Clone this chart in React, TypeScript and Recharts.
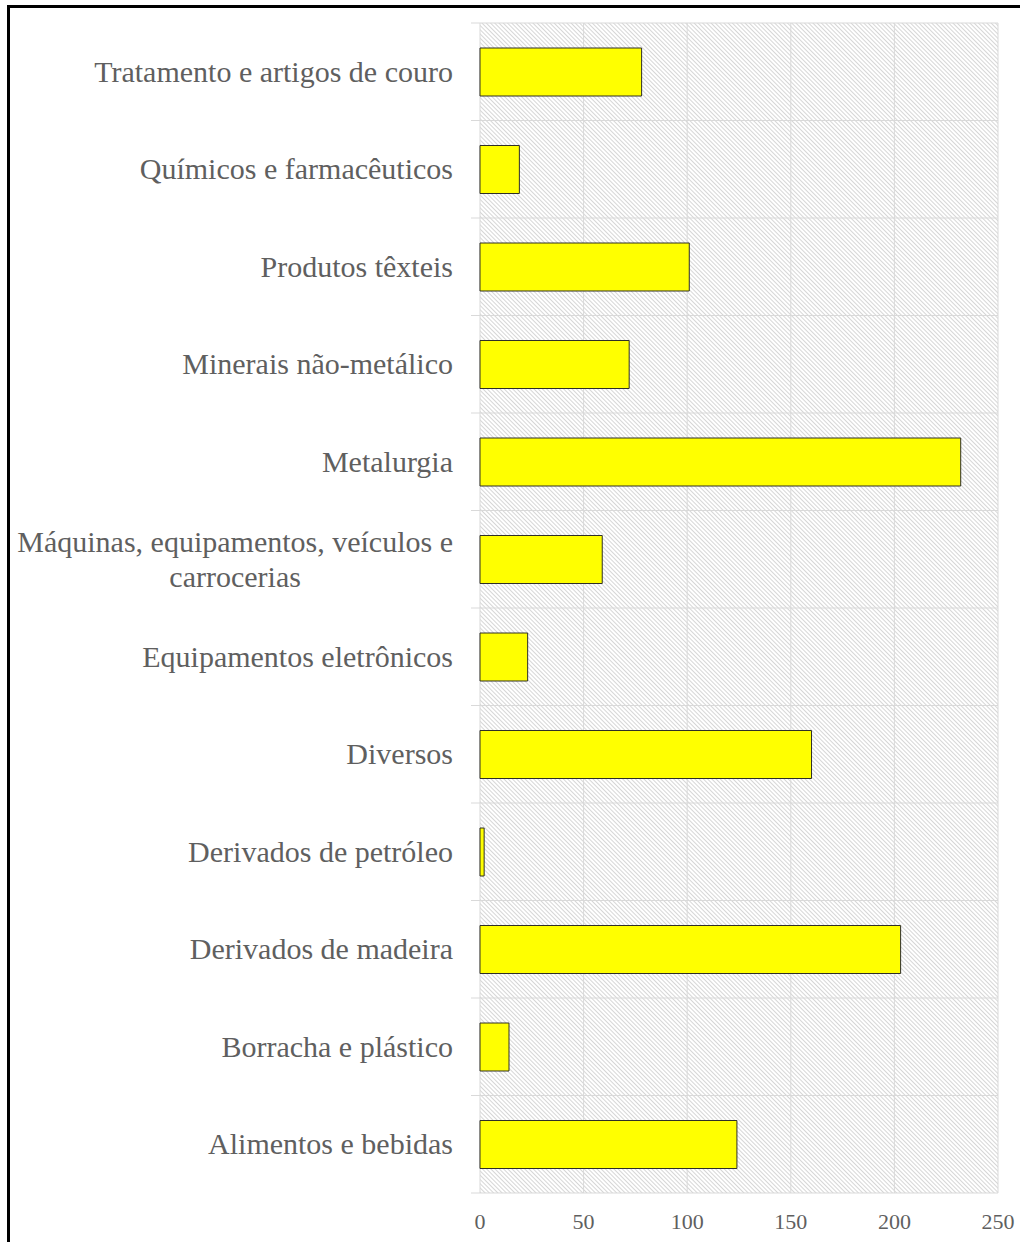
import React from "react";
import { BarChart, Bar, XAxis, YAxis, CartesianGrid } from "recharts";

const categories = [
  "Tratamento e artigos de couro",
  "Químicos e farmacêuticos",
  "Produtos têxteis",
  "Minerais não-metálico",
  "Metalurgia",
  "Máquinas, equipamentos, veículos e carrocerias",
  "Equipamentos eletrônicos",
  "Diversos",
  "Derivados de petróleo",
  "Derivados de madeira",
  "Borracha e plástico",
  "Alimentos e bebidas",
];
const values = [78, 19, 101, 72, 232, 59, 23, 160, 2, 203, 14, 124];
const xTicks = [0, 50, 100, 150, 200, 250];

const data = categories.map((name, i) => ({ name, value: values[i] }));

const W = 1020;
const H = 1242;
const MARGIN = { top: 23, right: 22, bottom: 0, left: 0 };
const Y_W = 480;
const X_H = 49;
const PLOT_H = H - MARGIN.top - MARGIN.bottom - X_H;
const HALF_BAND = PLOT_H / (categories.length * 2);
const LABEL_FONT = '30px "Liberation Serif"';
const TEXT_COLOR = "#5f5f5f";
const GRID = "#d9d9d9";

let ctx: CanvasRenderingContext2D | null = null;
function measure(t: string) {
  if (!ctx) {
    const c = document.createElement("canvas");
    ctx = c.getContext("2d");
  }
  if (!ctx) return t.length * 13;
  ctx.font = LABEL_FONT;
  return ctx.measureText(t).width;
}
function wrap(t: string, maxW: number) {
  const words = t.split(" ");
  const lines: string[] = [];
  let cur = "";
  for (const w of words) {
    const test = cur ? cur + " " + w : w;
    if (measure(test) > maxW && cur) {
      lines.push(cur);
      cur = w;
    } else cur = test;
  }
  if (cur) lines.push(cur);
  return lines;
}

const YTick = (props: any) => {
  const { x, y, payload, index } = props;
  const lines = wrap(String(payload.value), 445);
  const widths = lines.map(measure);
  const maxW = Math.max(...widths);
  const right = x - 27;
  const cx = right - maxW / 2;
  const lh = 35;
  const startY = y - ((lines.length - 1) * lh) / 2 + 10;
  return (
    <g>
      <line x1={x - 9} x2={x} y1={y - HALF_BAND} y2={y - HALF_BAND} stroke={GRID} strokeWidth={1} />
      {index === categories.length - 1 && (
        <line x1={x - 9} x2={x} y1={y + HALF_BAND} y2={y + HALF_BAND} stroke={GRID} strokeWidth={1} />
      )}
      {lines.map((l, i) => (
        <text
          key={i}
          x={lines.length > 1 ? cx : right}
          y={startY + i * lh}
          textAnchor={lines.length > 1 ? "middle" : "end"}
          fill={TEXT_COLOR}
          style={{ font: LABEL_FONT }}
        >
          {l}
        </text>
      ))}
    </g>
  );
};

export default function App() {
  return (
    <div style={{ position: "absolute", left: 0, top: 0, width: W, height: H, overflow: "hidden", background: "#fff" }}>
      <div
        style={{
          position: "absolute",
          left: 7,
          top: 5,
          width: W + 20,
          height: H + 20,
          borderLeft: "3px solid #000",
          borderTop: "3px solid #000",
          boxSizing: "border-box",
        }}
      />
      <div style={{ position: "absolute", left: 0, top: 0 }}>
        <BarChart width={W} height={H} data={data} layout="vertical" margin={MARGIN} barSize={48}>
          <defs>
            <pattern id="hatch" width="3" height="3" patternUnits="userSpaceOnUse" patternTransform="rotate(-45)">
              <rect width="3" height="3" fill="#ffffff" />
              <line x1="0.5" y1="0" x2="0.5" y2="3" stroke="#d6d6d6" strokeWidth="1" />
            </pattern>
          </defs>
          <CartesianGrid
            fill="url(#hatch)"
            fillOpacity={1}
            stroke={GRID}
            strokeDasharray=""
            horizontalCoordinatesGenerator={({ offset }: any) =>
              Array.from({ length: categories.length + 1 }, (_, i) => offset.top + (i * offset.height) / categories.length)
            }
          />
          <XAxis
            type="number"
            domain={[0, 250]}
            ticks={xTicks}
            axisLine={false}
            tickLine={false}
            tickSize={0}
            tickMargin={20}
            height={X_H}
            tick={{ fill: TEXT_COLOR, fontSize: 22, fontFamily: "Liberation Serif" }}
          />
          <YAxis
            type="category"
            dataKey="name"
            width={Y_W}
            axisLine={false}
            tickLine={false}
            tickSize={0}
            tickMargin={0}
            interval={0}
            tick={<YTick />}
          />
          <Bar dataKey="value" fill="#ffff00" stroke="#2e2e28" strokeWidth={1} isAnimationActive={false} />
        </BarChart>
      </div>
    </div>
  );
}
